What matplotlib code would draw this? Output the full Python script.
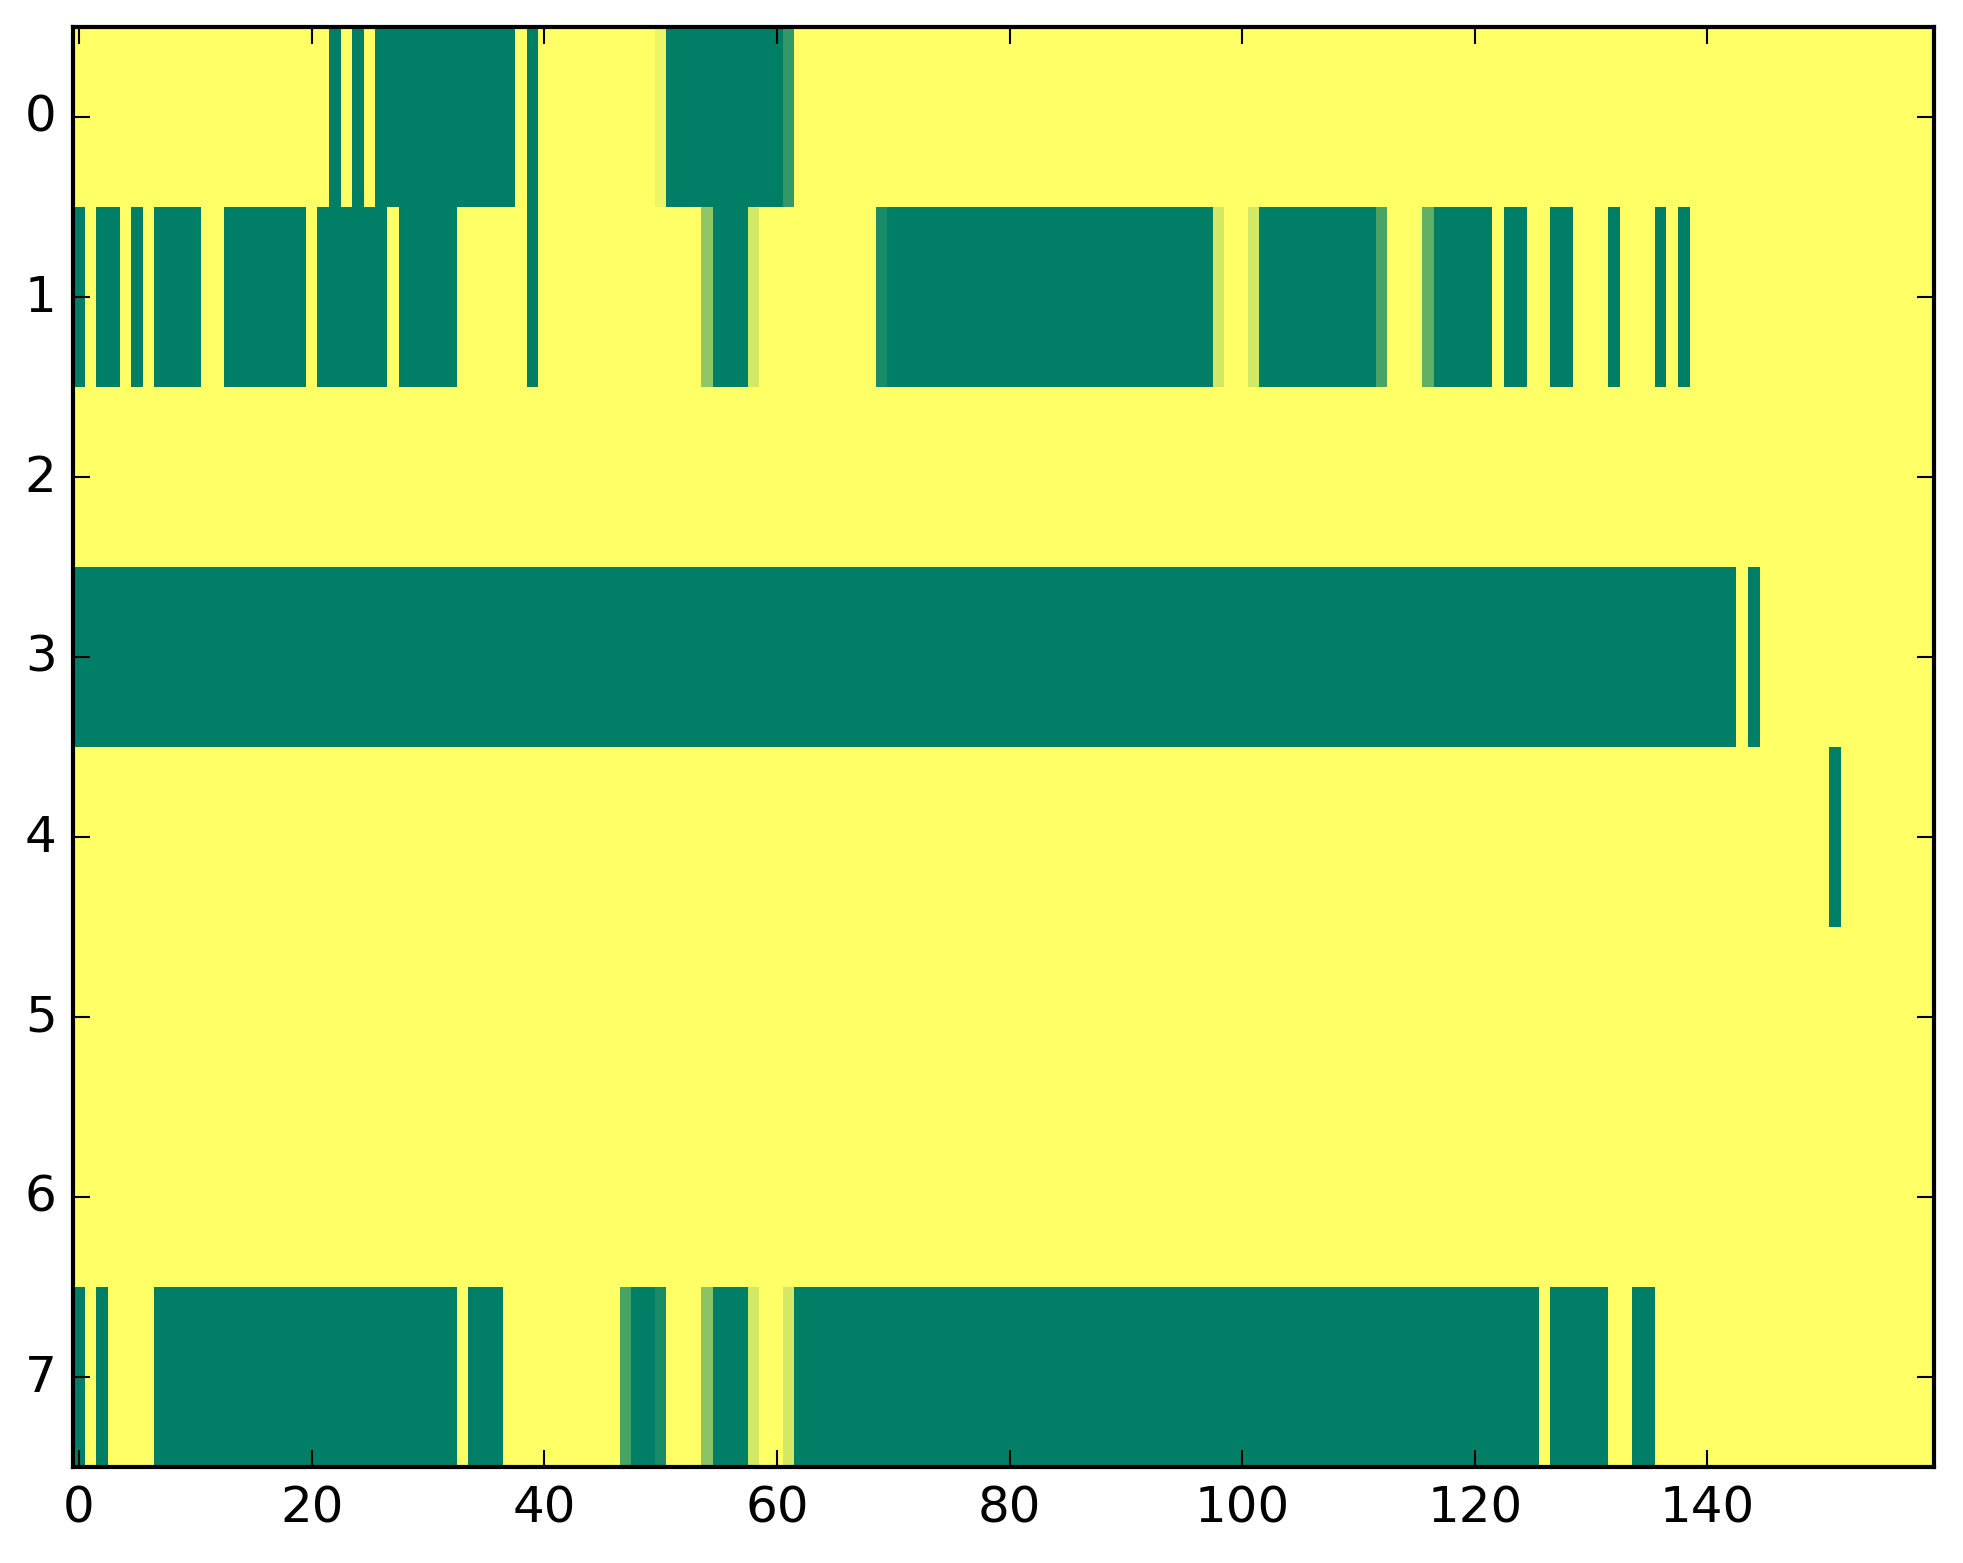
import numpy as np
import matplotlib
matplotlib.use('Agg')
import matplotlib.pyplot as plt

plt.style.use('classic')

n_rows = 8
n_cols = 160

# fully "on" cells per row, as inclusive (start, end) column spans
row0_on = [(22, 22), (24, 24), (26, 37), (39, 39), (51, 60)]
row1_on = [(0, 0), (2, 3), (5, 5), (7, 10), (13, 19), (21, 26), (28, 32),
           (39, 39), (55, 57), (70, 97), (102, 111), (117, 121), (123, 124),
           (127, 128), (132, 132), (136, 136), (138, 138)]
row3_on = [(0, 142), (144, 144)]
row4_on = [(151, 151)]
row7_on = [(0, 0), (2, 2), (7, 32), (34, 36), (48, 49), (55, 57),
           (62, 125), (127, 131), (134, 135)]

# cells with partial values (column: value)
row0_part = {50: 0.08, 61: 0.8}
row1_part = {54: 0.44, 58: 0.17, 69: 0.9, 98: 0.17, 101: 0.17,
             112: 0.72, 116: 0.62}
row7_part = {47: 0.72, 50: 0.9, 54: 0.46, 58: 0.17, 61: 0.17}

rows_on = {0: row0_on, 1: row1_on, 3: row3_on, 4: row4_on, 7: row7_on}
rows_part = {0: row0_part, 1: row1_part, 7: row7_part}

data = np.zeros((n_rows, n_cols))
for r, spans in rows_on.items():
    for a, b in spans:
        data[r, a:b + 1] = 1.0
for r, cells in rows_part.items():
    for c, v in cells.items():
        data[r, c] = v

W, H = 1963, 1564
fig = plt.figure(figsize=(W / 300, H / 300), dpi=300, facecolor='white')
ax = fig.add_axes([73.2 / W, 96 / H, 1861 / W, 1440 / H])

ax.imshow(data, cmap='summer_r', vmin=0, vmax=1, aspect='auto',
          interpolation='nearest')

ax.set_xticks(np.arange(0, 141, 20))
ax.set_yticks(np.arange(0, 8))
ax.set_xlim(-0.5, n_cols - 0.5)
ax.set_ylim(n_rows - 0.5, -0.5)

fig.savefig('out.png', dpi=300, facecolor='white')
